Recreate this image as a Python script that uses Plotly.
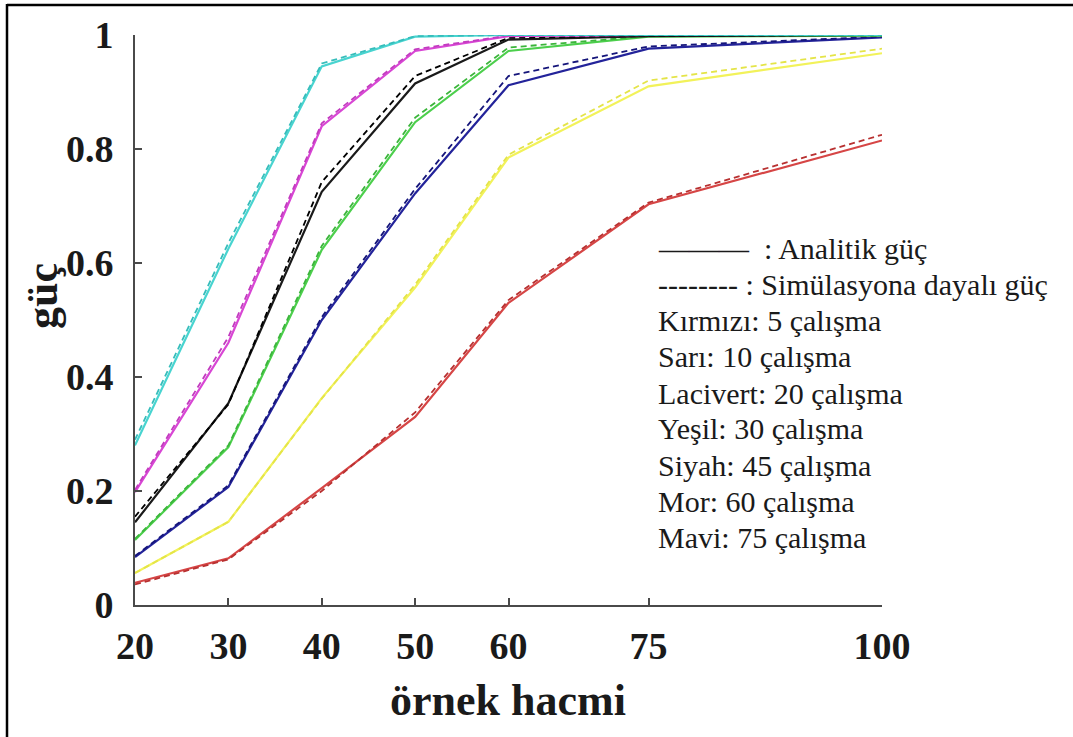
import plotly.graph_objects as go

# ---------------- data ----------------
sample_sizes = [20, 30, 40, 50, 60, 75, 100]

analytic_cyan    = [0.280, 0.625, 0.945, 0.997, 1.000, 1.000, 1.000]
analytic_magenta = [0.198, 0.460, 0.840, 0.972, 0.998, 1.000, 1.000]
analytic_black   = [0.145, 0.354, 0.725, 0.915, 0.992, 0.998, 1.000]
analytic_green   = [0.114, 0.277, 0.623, 0.847, 0.972, 0.997, 0.999]
analytic_blue    = [0.084, 0.207, 0.500, 0.722, 0.912, 0.976, 0.996]
analytic_yellow  = [0.056, 0.146, 0.363, 0.557, 0.785, 0.910, 0.968]
analytic_red     = [0.039, 0.082, 0.205, 0.330, 0.530, 0.703, 0.815]

sim_cyan    = [0.290, 0.635, 0.950, 0.998, 1.000, 1.000, 1.000]
sim_magenta = [0.202, 0.470, 0.845, 0.975, 0.999, 1.000, 1.000]
sim_black   = [0.155, 0.352, 0.742, 0.928, 0.995, 0.999, 1.000]
sim_green   = [0.116, 0.280, 0.630, 0.855, 0.978, 0.998, 0.999]
sim_blue    = [0.086, 0.210, 0.505, 0.730, 0.928, 0.980, 0.997]
sim_yellow  = [0.056, 0.146, 0.362, 0.562, 0.790, 0.920, 0.976]
sim_red     = [0.036, 0.080, 0.200, 0.338, 0.535, 0.706, 0.825]

y_ticks = [0, 0.2, 0.4, 0.6, 0.8, 1]
y_tick_labels = ["0", "0.2", "0.4", "0.6", "0.8", "1"]

legend_lines = [
    "——— &nbsp;: Analitik güç",
    "-------- : Simülasyona dayalı güç",
    "Kırmızı: 5 çalışma",
    "Sarı: 10 çalışma",
    "Lacivert: 20 çalışma",
    "Yeşil: 30 çalışma",
    "Siyah: 45 çalışma",
    "Mor: 60 çalışma",
    "Mavi: 75 çalışma",
]

# ---------------- styling ----------------
W, H = 1073, 737
L, R, T, B = 135, 191, 35, 132
PW, PH = W - L - R, H - T - B

def px_x(p):
    return (p - L) / PW

def px_y(p):
    return (H - B - p) / PH

colors = {
    "cyan": ("#48d4d0", "#36bdbb"),
    "magenta": ("#d846d4", "#c23abf"),
    "black": ("#1a1a1a", "#000000"),
    "green": ("#4ccf4c", "#3bb53b"),
    "blue": ("#23239a", "#15157a"),
    "yellow": ("#f2f25a", "#e4e448"),
    "red": ("#d64545", "#b83030"),
}

analytic = {
    "cyan": analytic_cyan, "magenta": analytic_magenta, "black": analytic_black,
    "green": analytic_green, "blue": analytic_blue, "yellow": analytic_yellow,
    "red": analytic_red,
}
sim = {
    "cyan": sim_cyan, "magenta": sim_magenta, "black": sim_black,
    "green": sim_green, "blue": sim_blue, "yellow": sim_yellow,
    "red": sim_red,
}

fig = go.Figure()
for key in ["red", "yellow", "blue", "green", "black", "magenta", "cyan"]:
    solid_c, dash_c = colors[key]
    fig.add_trace(go.Scatter(x=sample_sizes, y=analytic[key], mode="lines",
                             line=dict(color=solid_c, width=2.2), showlegend=False,
                             hoverinfo="skip"))
    fig.add_trace(go.Scatter(x=sample_sizes, y=sim[key], mode="lines",
                             line=dict(color=dash_c, width=1.8, dash="6px,4px"),
                             showlegend=False, hoverinfo="skip"))

SERIF = "Liberation Serif, Times New Roman, serif"
tick_font = dict(family=SERIF, size=38, color="#1a1a1a", weight="bold")
fig.update_layout(
    width=W, height=H,
    margin=dict(l=L, r=R, t=T, b=B, pad=0),
    paper_bgcolor="white", plot_bgcolor="white",
    font=dict(family=SERIF),
    showlegend=False,
)
fig.update_xaxes(
    range=[20, 100], tickvals=sample_sizes, ticktext=[str(v) for v in sample_sizes],
    showgrid=False, zeroline=False, showline=True, linecolor="#4a4a4a", linewidth=2,
    ticks="inside", ticklen=7, tickwidth=1.5, tickcolor="#4a4a4a",
    tickfont=tick_font, ticklabelstandoff=6,
)
fig.update_yaxes(
    range=[0, 1], tickvals=y_ticks, ticktext=y_tick_labels,
    showgrid=False, zeroline=False, showline=True, linecolor="#4a4a4a", linewidth=2,
    ticks="inside", ticklen=7, tickwidth=1.5, tickcolor="#4a4a4a",
    tickfont=tick_font, ticklabelstandoff=12,
)

annotations = []
annotations.append(dict(text="<b>örnek hacmi</b>", xref="paper", yref="paper",
                        x=px_x(508), y=px_y(700), xanchor="center", yanchor="middle",
                        showarrow=False,
                        font=dict(family=SERIF, size=44, color="#1a1a1a")))
annotations.append(dict(text="<b>güç</b>", xref="paper", yref="paper",
                        x=px_x(42), y=px_y(296), xanchor="center", yanchor="middle",
                        textangle=-90, showarrow=False,
                        font=dict(family=SERIF, size=44, color="#1a1a1a")))
legend_y = [248, 284, 320, 356, 393, 429, 465, 501, 537]
for txt, yy in zip(legend_lines, legend_y):
    annotations.append(dict(text=txt, xref="paper", yref="paper",
                            x=px_x(656), y=px_y(yy), xanchor="left", yanchor="middle",
                            showarrow=False,
                            font=dict(family=SERIF, size=30, color="#1a1a1a")))
fig.update_layout(annotations=annotations)

# outer frame (left and top edges)
fig.add_shape(type="line", xref="paper", yref="paper",
              x0=px_x(7), x1=px_x(W), y0=px_y(5), y1=px_y(5),
              line=dict(color="black", width=2.5))
fig.add_shape(type="line", xref="paper", yref="paper",
              x0=px_x(7), x1=px_x(7), y0=px_y(4), y1=px_y(H),
              line=dict(color="black", width=2.5))

fig.write_html("out.html",
               config={"displayModeBar": False},
               post_script="document.body.style.margin='0';document.body.style.overflow='hidden';")
